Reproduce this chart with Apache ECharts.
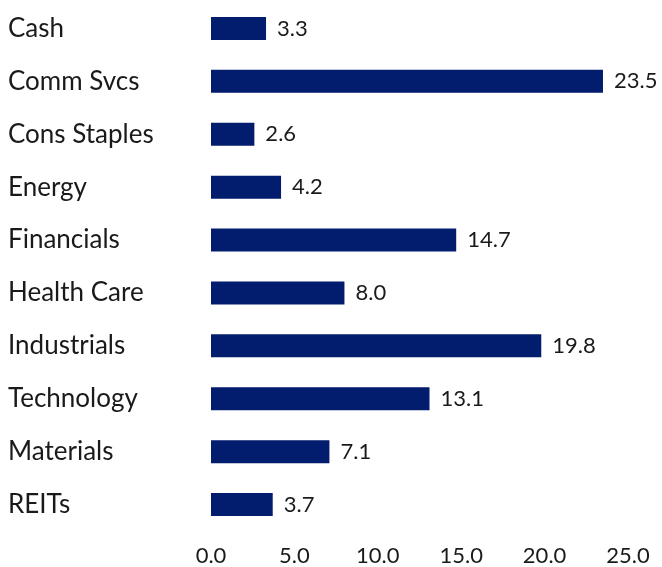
<!DOCTYPE html>
<html>
<head>
<meta charset="utf-8">
<script src="https://cdn.jsdelivr.net/npm/echarts@6/dist/echarts.min.js"></script>
<style>
  html, body { margin: 0; padding: 0; background: #fff; }
  #chart { width: 662px; height: 567px; }
</style>
</head>
<body>
<div id="chart"></div>
<script>
var categories = ['Cash', 'Comm Svcs', 'Cons Staples', 'Energy', 'Financials', 'Health Care', 'Industrials', 'Technology', 'Materials', 'REITs'];
var weights = [3.3, 23.5, 2.6, 4.2, 14.7, 8.0, 19.8, 13.1, 7.1, 3.7];
var xTicks = [0, 5, 10, 15, 20, 25];

var chart = echarts.init(document.getElementById('chart'));

var option = {
  animation: false,
  grid: { left: 211, right: 34, top: 2, bottom: 33, containLabel: false },
  xAxis: {
    type: 'value',
    min: xTicks[0],
    max: xTicks[xTicks.length - 1],
    interval: 5,
    axisLine: { show: false },
    axisTick: { show: false },
    splitLine: { show: false },
    axisLabel: {
      margin: 14,
      fontFamily: 'Lato',
      fontSize: 22,
      color: '#1a1a1a',
      formatter: function (v) { return v.toFixed(1); }
    }
  },
  yAxis: {
    type: 'category',
    inverse: true,
    data: categories,
    axisLine: { show: false },
    axisTick: { show: false },
    axisLabel: {
      align: 'left',
      margin: 203,
      fontFamily: 'Lato',
      fontSize: 26,
      color: '#1a1a1a'
    }
  },
  series: [{
    type: 'bar',
    data: weights,
    barWidth: 23,
    itemStyle: { color: '#031d6e' },
    label: {
      show: true,
      position: 'right',
      distance: 11,
      fontFamily: 'Lato',
      fontSize: 22,
      color: '#1a1a1a',
      formatter: function (p) { return p.value.toFixed(1); }
    }
  }]
};

chart.setOption(option);
</script>
</body>
</html>
